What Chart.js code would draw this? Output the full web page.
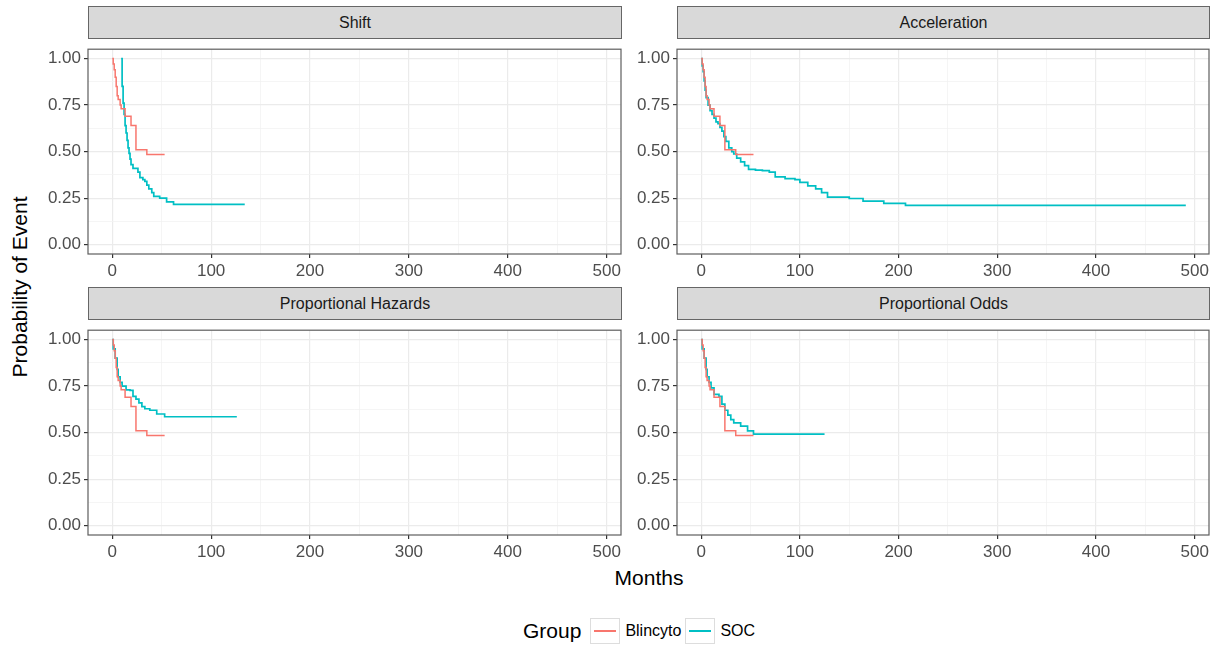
<!DOCTYPE html>
<html><head><meta charset="utf-8">
<script src="https://cdn.jsdelivr.net/npm/chart.js@4/dist/chart.umd.min.js"></script>
<style>
body{margin:0;width:1219px;height:651px;background:#fff;position:relative;overflow:hidden;font-family:"Liberation Sans",Arial,sans-serif;}
canvas{position:absolute;}
.strip{position:absolute;background:#D9D9D9;border:1px solid #666;box-sizing:border-box;text-align:center;color:#1A1A1A;font-size:16px;line-height:31px;}
#ytitle{position:absolute;left:20px;top:287px;transform:translate(-50%,-50%) rotate(-90deg);font-size:21px;color:#000;white-space:nowrap;}
#xtitle{position:absolute;left:649px;top:578px;transform:translate(-50%,-50%);font-size:21px;color:#000;}
#legend{position:absolute;left:523px;top:617px;height:27px;display:flex;align-items:center;font-size:16px;color:#000;}
#legend .gt{font-size:21px;margin-right:9px;}
#legend .key{width:30px;height:26px;border:1px solid #DDD;box-sizing:border-box;position:relative;margin-right:5px;}
#legend .key i{position:absolute;left:3px;right:3px;top:11px;height:2px;}
#legend .lab{margin-right:4px;}
</style>
</head><body>
<div id="ytitle">Probability of Event</div>
<div id="xtitle">Months</div>
<div id="legend"></div>
<script>
// ---- data (months, probability) ----
const blincytoMonths = [0, 1, 2, 3, 4, 5, 6, 8, 9, 13, 19, 24, 35, 53];
const blincytoProb   = [1.00, 0.97, 0.94, 0.90, 0.85, 0.80, 0.78, 0.75, 0.73, 0.69, 0.64, 0.51, 0.485, 0.485];

const shiftSocMonths = [9, 10, 11, 12, 13, 14, 15, 16, 17, 18, 19, 21, 26, 28, 31, 33, 35, 37, 40, 42, 48, 55, 62, 134];
const shiftSocProb   = [1.00, 0.85, 0.76, 0.70, 0.64, 0.60, 0.56, 0.52, 0.49, 0.46, 0.43, 0.41, 0.39, 0.36, 0.35, 0.34, 0.32, 0.30, 0.28, 0.26, 0.25, 0.23, 0.217, 0.217];

const accelSocMonths = [0, 1, 2, 3, 4, 5, 7, 9, 11, 13, 15, 17, 19, 21, 23, 25, 28, 31, 33, 36, 40, 44, 48, 55, 62, 69, 75, 85, 95, 100, 108, 116, 122, 128, 150, 164, 185, 207, 491];
const accelSocProb   = [1.00, 0.96, 0.93, 0.88, 0.83, 0.79, 0.75, 0.72, 0.70, 0.68, 0.66, 0.65, 0.63, 0.61, 0.58, 0.555, 0.52, 0.50, 0.487, 0.465, 0.445, 0.425, 0.405, 0.40, 0.398, 0.39, 0.364, 0.355, 0.35, 0.335, 0.316, 0.30, 0.28, 0.256, 0.248, 0.234, 0.222, 0.211, 0.211];

const phSocMonths = [0, 1, 3, 5, 6, 8, 10, 14, 18, 21, 24, 27, 30, 33, 38, 45, 53, 126];
const phSocProb   = [1.00, 0.95, 0.90, 0.84, 0.80, 0.77, 0.75, 0.73, 0.727, 0.695, 0.68, 0.66, 0.64, 0.628, 0.62, 0.60, 0.585, 0.585];

const poSocMonths = [0, 1, 3, 5, 6, 8, 10, 13, 18, 21, 24, 27, 30, 33, 40, 47, 53, 125];
const poSocProb   = [1.00, 0.95, 0.90, 0.84, 0.80, 0.77, 0.74, 0.705, 0.695, 0.653, 0.62, 0.594, 0.57, 0.552, 0.535, 0.509, 0.492, 0.492];

const panelTitles = ["Shift", "Acceleration", "Proportional Hazards", "Proportional Odds"];
const groupNames = ["Blincyto", "SOC"];
const groupColors = ["#F8766D", "#00BFC4"];
const xTickValues = [0, 50, 100, 150, 200, 250, 300, 350, 400, 450, 500];
const yTickValues = [0, 0.125, 0.25, 0.375, 0.5, 0.625, 0.75, 0.875, 1];

// ---- build ----
function pts(xs, ys){ return xs.map((x,i)=>({x:x, y:ys[i]})); }
const socSeries = [pts(shiftSocMonths, shiftSocProb), pts(accelSocMonths, accelSocProb), pts(phSocMonths, phSocProb), pts(poSocMonths, poSocProb)];
const blinSeries = pts(blincytoMonths, blincytoProb);

const cols = [{left:0, width:625, yw:88, pr:4, stripLeft:88, stripW:534},
              {left:625, width:594, yw:52, pr:10, stripLeft:677, stripW:533}];
const rows = [{top:36, stripTop:6}, {top:317, stripTop:287}];
const plotH = 216, xAxisH = 30, padTop = 2;

const borderPlugin = {id:'panelBorder', afterDraw(chart){
  const a = chart.chartArea, ctx = chart.ctx;
  ctx.save(); ctx.strokeStyle = '#5E5E5E'; ctx.lineWidth = 1.2;
  ctx.strokeRect(a.left, a.top, a.right - a.left, a.bottom - a.top);
  ctx.restore();
}};

const tickFont = {family: '"Liberation Sans", Arial, sans-serif', size: 17};
const isMajorX = v => Math.abs(v % 100) < 1e-9;
const isMajorY = v => Math.abs((v * 4) - Math.round(v * 4)) < 1e-9;

panelTitles.forEach((title, idx) => {
  const c = cols[idx % 2], r = rows[Math.floor(idx / 2)];
  const strip = document.createElement('div');
  strip.className = 'strip';
  strip.style.left = c.stripLeft + 'px'; strip.style.top = r.stripTop + 'px';
  strip.style.width = c.stripW + 'px'; strip.style.height = '33px';
  strip.textContent = title;
  document.body.appendChild(strip);

  const cv = document.createElement('canvas');
  cv.width = c.width; cv.height = padTop + plotH + xAxisH;
  cv.style.left = c.left + 'px'; cv.style.top = r.top + 'px';
  document.body.appendChild(cv);

  new Chart(cv, {
    type: 'line',
    data: { datasets: [
      {label: groupNames[0], data: blinSeries, borderColor: groupColors[0], borderWidth: 1.5, stepped: true, pointRadius: 0, fill: false},
      {label: groupNames[1], data: socSeries[idx], borderColor: groupColors[1], borderWidth: 1.7, stepped: true, pointRadius: 0, fill: false}
    ]},
    options: {
      responsive: false, animation: false,
      layout: {padding: {top: padTop, right: c.pr, bottom: 0, left: 0}},
      plugins: {legend: {display: false}, tooltip: {enabled: false}},
      scales: {
        x: {
          type: 'linear', min: -24.5, max: 514.5,
          afterBuildTicks: s => { s.ticks = xTickValues.map(v => ({value: v})); },
          afterFit: s => { s.height = xAxisH; },
          ticks: {font: tickFont, color: '#4D4D4D', padding: 3, maxRotation: 0, autoSkip: false,
                  callback: v => isMajorX(v) ? String(v) : ''},
          grid: {color: ctx => isMajorX(ctx.tick.value) ? '#EBEBEB' : '#F3F3F3',
                 lineWidth: ctx => isMajorX(ctx.tick.value) ? 1.2 : 0.8,
                 tickColor: ctx => isMajorX(ctx.tick.value) ? '#333' : 'rgba(0,0,0,0)',
                 tickLength: 4, drawTicks: true},
          border: {display: false}
        },
        y: {
          type: 'linear', min: -0.05, max: 1.05,
          afterBuildTicks: s => { s.ticks = yTickValues.map(v => ({value: v})); },
          afterFit: s => { s.width = c.yw; },
          ticks: {font: tickFont, color: '#4D4D4D', padding: 3, autoSkip: false,
                  callback: v => isMajorY(v) ? v.toFixed(2) : ''},
          grid: {color: ctx => isMajorY(ctx.tick.value) ? '#EBEBEB' : '#F3F3F3',
                 lineWidth: ctx => isMajorY(ctx.tick.value) ? 1.2 : 0.8,
                 tickColor: ctx => isMajorY(ctx.tick.value) ? '#333' : 'rgba(0,0,0,0)',
                 tickLength: 4, drawTicks: true},
          border: {display: false}
        }
      }
    },
    plugins: [borderPlugin]
  });
});

// legend
const lg = document.getElementById('legend');
lg.innerHTML = '<span class="gt">Group</span>' + groupNames.map((n,i) =>
  '<span class="key"><i style="background:' + groupColors[i] + '"></i></span><span class="lab">' + n + '</span>').join('');
</script>
</body></html>
